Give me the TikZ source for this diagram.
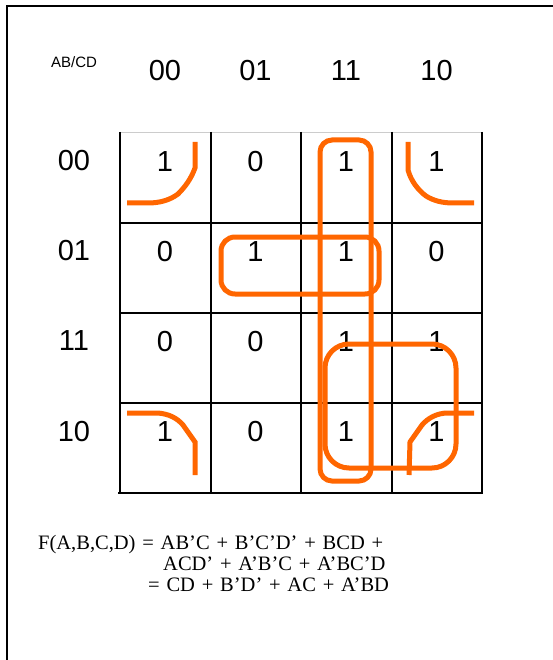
\documentclass[tikz,border=0pt]{standalone}
\usepackage{fontspec}
\setmainfont{Liberation Serif}
\newfontfamily\arialfont{Liberation Sans}
\definecolor{kmorange}{HTML}{FF6600}
\newcommand\widesp{\spaceskip 6.8pt\relax}
\begin{document}
\begin{tikzpicture}[x=1pt,y=-1pt,
  gridline/.style={line width=2pt, black},
  kloop/.style={kmorange, line width=5pt},
  digit/.style={font=\arialfont\fontsize{29}{29}\selectfont, inner sep=0pt},
  smalllab/.style={font=\arialfont\fontsize{15}{15}\selectfont, inner sep=0pt},
  formula/.style={font=\fontsize{20.5}{24}\selectfont, anchor=base west, inner sep=0pt}]
\useasboundingbox (0,0) rectangle (553,660);
\fill[white] (0,0) rectangle (553,660);
% outer frame (partial)
\draw[line width=2.2pt] (553,6) -- (7,6) -- (7,660);
% grid
\draw[gray!40, line width=1pt] (120,133) -- (482,133);
\foreach \x in {120,210.5,301,391.5,482} \draw[gridline] (\x,132) -- (\x,493);
\foreach \y in {223,313,403} \draw[gridline] (120,\y) -- (482,\y);
\draw[gridline] (118,493) -- (483,493);
% labels
\node[smalllab] (abcd) at (74,62) {AB/CD};
\node[digit] (c00) at (165,71) {00};
\node[digit] (c01) at (255.5,71) {01};
\node[digit] (c11) at (346,71) {11};
\node[digit] (c10) at (436.5,71) {10};
\node[digit] (r00) at (74,161) {00};
\node[digit] (r01) at (74,251) {01};
\node[digit] (r11) at (74,341) {11};
\node[digit] (r10) at (74,432) {10};
% values
\node[digit] (v0a) at (165,162) {1};
\node[digit] (v0b) at (255.5,162) {0};
\node[digit] (v0c) at (346,162) {1};
\node[digit] (v0d) at (436.5,162) {1};
\node[digit] (v1a) at (165,252) {0};
\node[digit] (v1b) at (255.5,252) {1};
\node[digit] (v1c) at (346,252) {1};
\node[digit] (v1d) at (436.5,252) {0};
\node[digit] (v2a) at (165,342) {0};
\node[digit] (v2b) at (255.5,342) {0};
\node[digit] (v2c) at (346,342) {1};
\node[digit] (v2d) at (436.5,342) {1};
\node[digit] (v3a) at (165,432) {1};
\node[digit] (v3b) at (255.5,432) {0};
\node[digit] (v3c) at (346,432) {1};
\node[digit] (v3d) at (436.5,432) {1};
% loops
\draw[kloop, rounded corners=12pt] (320,140) rectangle (371,481);
\draw[kloop, rounded corners=14pt] (221,237) rectangle (379,294);
\draw[kloop, rounded corners=24pt] (325,344) rectangle (456,468);
% corner groups
\draw[kloop] (195,142) -- (195,168) .. controls (191,179) and (185,187) .. (178,194)
  .. controls (170,200) and (160,203) .. (148,203) -- (127,203);
\draw[kloop] (408,142) -- (408,170) .. controls (411,181) and (418,190) .. (426,196)
  .. controls (434,201) and (443,203) .. (453,203) -- (474,203);
\draw[kloop] (127,413) -- (158,413) .. controls (169,414) and (177,418) .. (183,425)
  -- (195,442) -- (195,475);
\draw[kloop] (474,413) -- (448,413) .. controls (437,413) and (428,418) .. (422,425)
  -- (410,442) -- (409,475);
% formula
\node[formula] (f1) at (38,549) {\widesp F(A,B,C,D) = AB’C + B’C’D’ + BCD +};
\node[formula] (f2) at (163,570) {\widesp ACD’ + A’B’C + A’BC’D};
\node[formula] (f3) at (148,591) {\widesp = CD + B’D’ + AC + A’BD};
\end{tikzpicture}
\end{document}
